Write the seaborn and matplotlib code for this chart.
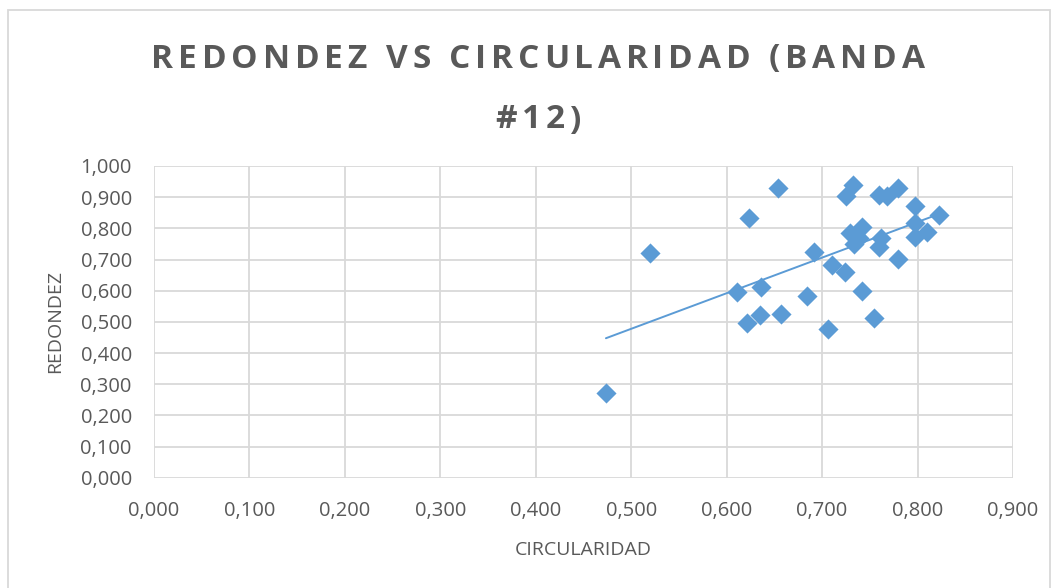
import numpy as np
import pandas as pd
import matplotlib
matplotlib.use('Agg')
import matplotlib.pyplot as plt
import seaborn as sns
from matplotlib.ticker import FuncFormatter, MultipleLocator
from matplotlib.patches import Rectangle

# Data
circularidad = [0.4735, 0.520, 0.6105, 0.6216, 0.6237, 0.635, 0.636, 0.654, 0.657,
                0.6838, 0.6914, 0.7065, 0.7107, 0.724, 0.725, 0.732, 0.729, 0.742,
                0.739, 0.733, 0.742, 0.7547, 0.760, 0.768, 0.780, 0.762, 0.760,
                0.779, 0.797, 0.797, 0.797, 0.8095, 0.822]
redondez = [0.273, 0.720, 0.595, 0.495, 0.834, 0.521, 0.613, 0.928, 0.525,
            0.583, 0.725, 0.476, 0.681, 0.660, 0.904, 0.939, 0.784, 0.803,
            0.768, 0.750, 0.600, 0.512, 0.907, 0.904, 0.928, 0.768, 0.741,
            0.701, 0.872, 0.816, 0.773, 0.789, 0.843]

TITLE_LINES = ["REDONDEZ VS CIRCULARIDAD (BANDA", "#12)"]
BLUE = '#5b9bd5'
TEXT = '#595959'
GRID = '#d9d9d9'
W, H = 1058, 588


def spaced_text(fig, text, cx, cy, spacing, space_w, **kw):
    # draw text one character at a time so letter spacing can be widened
    r = fig.canvas.get_renderer()
    widths = []
    for ch in text:
        if ch == ' ':
            widths.append(space_w)
            continue
        t = fig.text(0, 0, ch, **kw)
        widths.append(t.get_window_extent(r).width)
        t.remove()
    total = sum(widths) + spacing * (len(text) - 1)
    x = cx - total / 2
    for ch, w in zip(text, widths):
        if ch != ' ':
            fig.text(x / W, 1 - cy / H, ch, ha='left', va='center', **kw)
        x += w + spacing


df = pd.DataFrame({'CIRCULARIDAD': circularidad, 'REDONDEZ': redondez})

sns.set_theme(style="white")
plt.rcParams['font.family'] = ['Open Sans', 'DejaVu Sans']

fig = plt.figure(figsize=(10.58, 5.88), dpi=100)
ax = fig.add_axes([154 / W, 1 - 477.7 / H, (1013 - 154) / W, (477.7 - 166) / H])

sns.regplot(data=df, x='CIRCULARIDAD', y='REDONDEZ', ax=ax, ci=None, truncate=True,
            marker='D', color=BLUE,
            scatter_kws={'s': 105, 'linewidths': 0, 'alpha': 1, 'zorder': 3},
            line_kws={'lw': 1.4, 'color': BLUE, 'zorder': 2})

ax.set_xlim(0, 0.9)
ax.set_ylim(0, 1.0)
ax.xaxis.set_major_locator(MultipleLocator(0.1))
ax.yaxis.set_major_locator(MultipleLocator(0.1))
fmt = FuncFormatter(lambda v, p: f"{v:.3f}".replace('.', ','))
ax.xaxis.set_major_formatter(fmt)
ax.yaxis.set_major_formatter(fmt)

ax.grid(True, color=GRID, lw=1.3)
ax.set_axisbelow(True)
for s in ax.spines.values():
    s.set_visible(False)
ax.tick_params(axis='both', length=0, labelsize=14.5, labelcolor=TEXT)
ax.tick_params(axis='x', pad=17)
ax.tick_params(axis='y', pad=16)

ax.set_xlabel('CIRCULARIDAD', fontsize=14, color=TEXT, labelpad=14)
ax.set_ylabel('REDONDEZ', fontsize=14, color=TEXT, labelpad=12)

title_kw = dict(fontsize=24, fontweight='bold', color=TEXT)
spaced_text(fig, TITLE_LINES[0], 538, 59, 4.8, 9, **title_kw)
spaced_text(fig, TITLE_LINES[1], 538, 120, 4.8, 9, **title_kw)

fig.patches.append(Rectangle((8 / W, -0.01), 1042 / W, 1 - 10 / H + 0.01,
                             transform=fig.transFigure, fill=False,
                             edgecolor=GRID, lw=1.3))

fig.savefig('out.png', dpi=100)
